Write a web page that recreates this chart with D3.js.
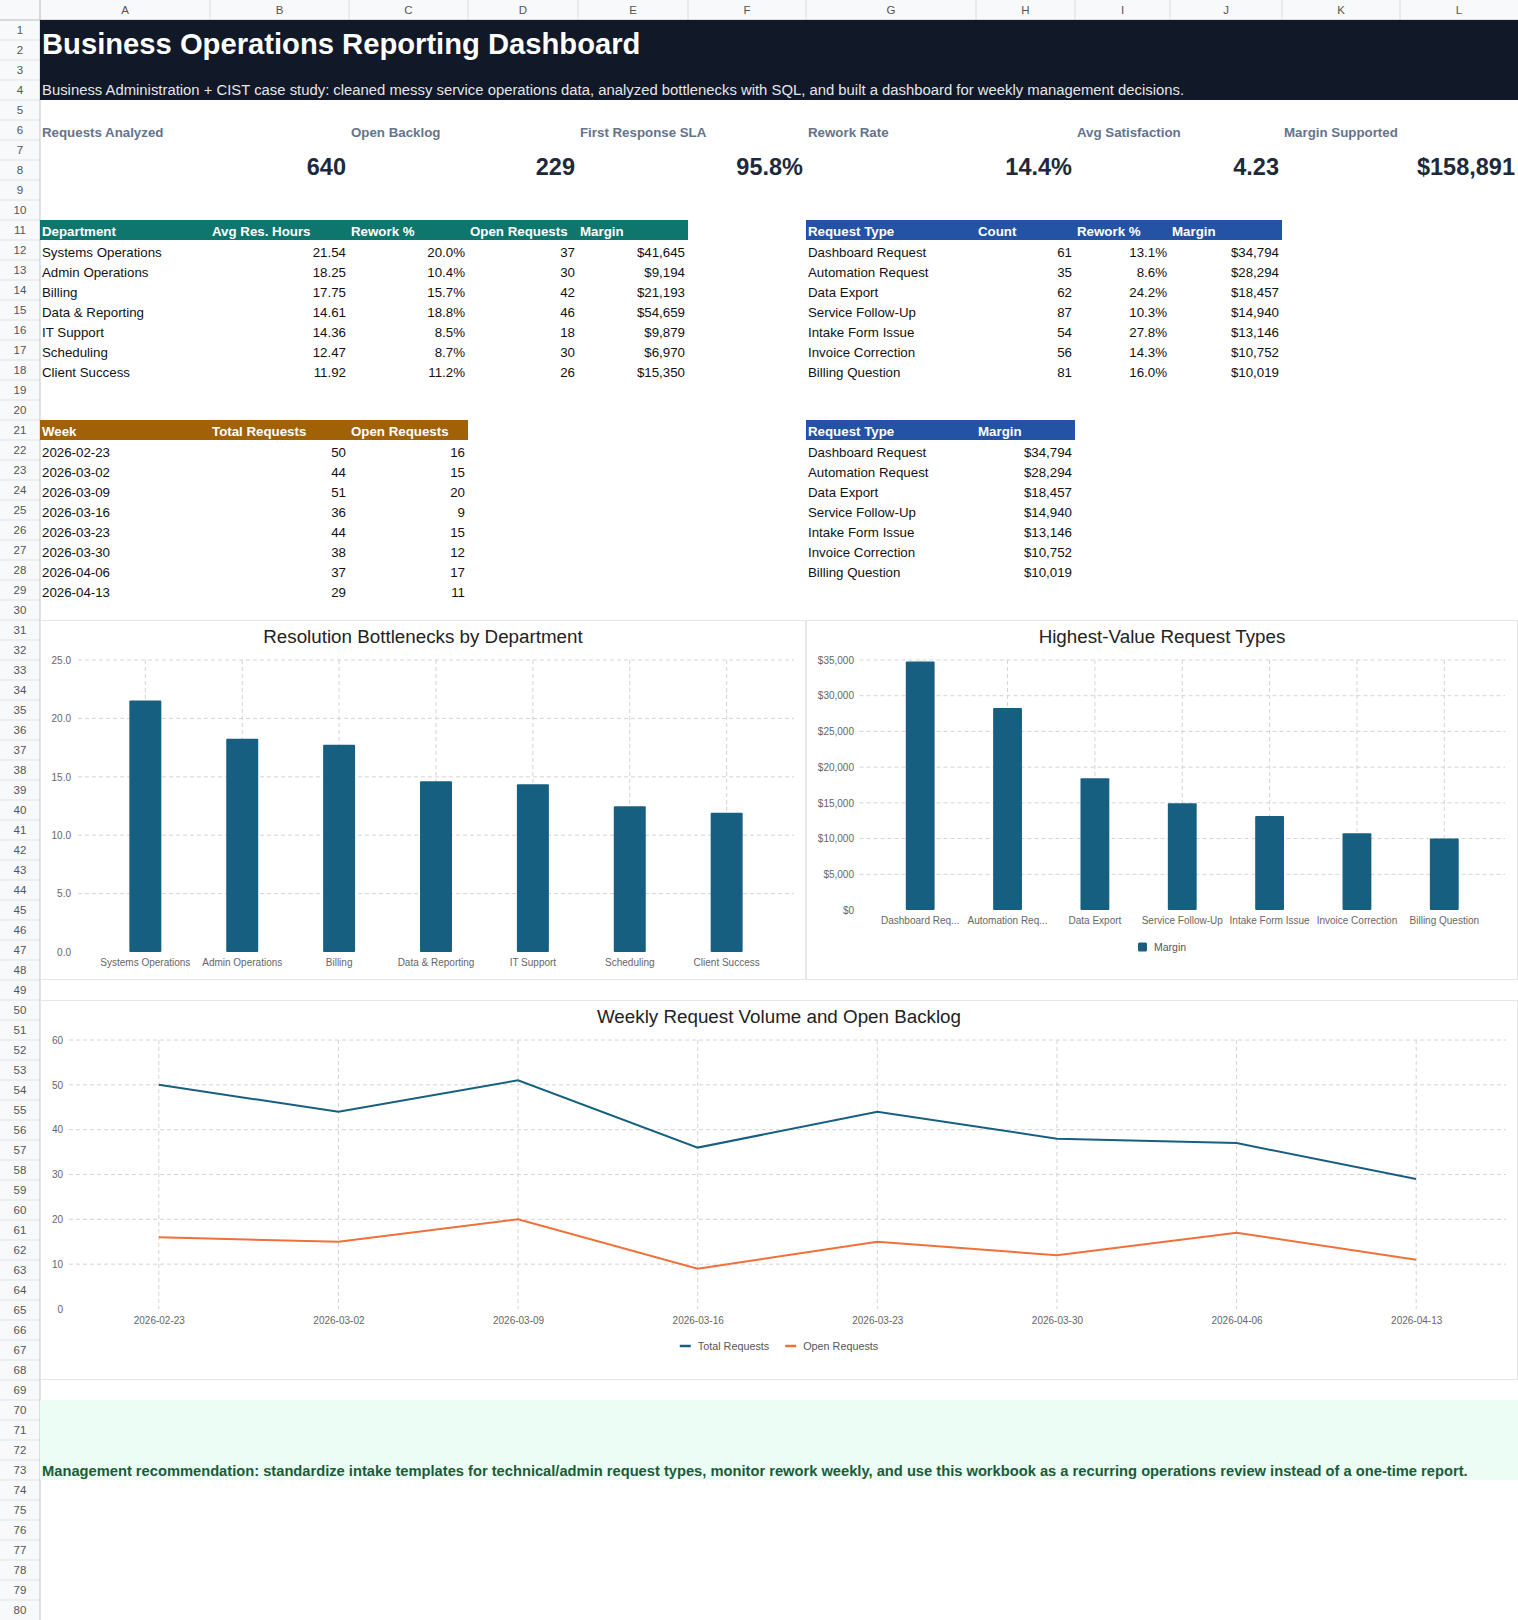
<!DOCTYPE html>
<html>
<head>
<meta charset="utf-8">
<script src="https://cdn.jsdelivr.net/npm/d3@7/dist/d3.min.js"></script>
<style>
  body { margin: 0; background: #fff; }
  svg { display: block; font-family: "Liberation Sans", Arial, Helvetica, sans-serif; }
</style>
</head>
<body>
<div id="sheet"></div>
<script>
// ---- dati del foglio ----
const titleText = 'Business Operations Reporting Dashboard';
const subtitleText = 'Business Administration + CIST case study: cleaned messy service operations data, analyzed bottlenecks with SQL, and built a dashboard for weekly management decisions.';
const recommendationText = 'Management recommendation: standardize intake templates for technical/admin request types, monitor rework weekly, and use this workbook as a recurring operations review instead of a one-time report.';

const kpiLabels = ['Requests Analyzed', 'Open Backlog', 'First Response SLA', 'Rework Rate', 'Avg Satisfaction', 'Margin Supported'];
const kpiValues = ['640', '229', '95.8%', '14.4%', '4.23', '$158,891'];

const deptHeaders = ['Department', 'Avg Res. Hours', 'Rework %', 'Open Requests', 'Margin'];
const departments = ['Systems Operations', 'Admin Operations', 'Billing', 'Data & Reporting', 'IT Support', 'Scheduling', 'Client Success'];
const deptHours = [21.54, 18.25, 17.75, 14.61, 14.36, 12.47, 11.92];
const deptRework = [20.0, 10.4, 15.7, 18.8, 8.5, 8.7, 11.2];
const deptOpen = [37, 30, 42, 46, 18, 30, 26];
const deptMargin = [41645, 9194, 21193, 54659, 9879, 6970, 15350];

const typeHeaders = ['Request Type', 'Count', 'Rework %', 'Margin'];
const requestTypes = ['Dashboard Request', 'Automation Request', 'Data Export', 'Service Follow-Up', 'Intake Form Issue', 'Invoice Correction', 'Billing Question'];
const typeShortLabels = ['Dashboard Req...', 'Automation Req...', 'Data Export', 'Service Follow-Up', 'Intake Form Issue', 'Invoice Correction', 'Billing Question'];
const typeCount = [61, 35, 62, 87, 54, 56, 81];
const typeRework = [13.1, 8.6, 24.2, 10.3, 27.8, 14.3, 16.0];
const typeMargin = [34794, 28294, 18457, 14940, 13146, 10752, 10019];

const weekHeaders = ['Week', 'Total Requests', 'Open Requests'];
const weeks = ['2026-02-23', '2026-03-02', '2026-03-09', '2026-03-16', '2026-03-23', '2026-03-30', '2026-04-06', '2026-04-13'];
const weekTotal = [50, 44, 51, 36, 44, 38, 37, 29];
const weekOpen = [16, 15, 20, 9, 15, 12, 17, 11];

const colLetters = ['A', 'B', 'C', 'D', 'E', 'F', 'G', 'H', 'I', 'J', 'K', 'L'];
const hoursTicks = [0, 5, 10, 15, 20, 25];
const marginTicks = [0, 5000, 10000, 15000, 20000, 25000, 30000, 35000];
const volumeTicks = [0, 10, 20, 30, 40, 50, 60];

// ---- griglia del foglio ----
const W = 1518, H = 1620;
const colX = [40, 210, 349, 468, 578, 688, 806, 976, 1075, 1170, 1282, 1400, 1518];
const rowY = r => 20 + (r - 1) * 20;

const money = v => '$' + d3.format(',')(v);
const pct = v => v.toFixed(1) + '%';

const C = {
  navy: '#111827', teal: '#0f766e', blue: '#2453a6', amber: '#a16207',
  bar: '#175f80', orange: '#f0703a', grid: '#d4d4d4', tick: '#666', mint: '#ecfdf5'
};

const svg = d3.select('#sheet').append('svg')
  .attr('width', W).attr('height', H);

// intestazioni colonne
svg.append('rect').attr('x', 0).attr('y', 0).attr('width', W).attr('height', 20).attr('fill', '#f8f9fa');
colLetters.forEach((l, i) => {
  svg.append('text')
    .attr('x', (colX[i] + colX[i + 1]) / 2).attr('y', 14)
    .attr('text-anchor', 'middle').style('font-size', '11.5px').attr('fill', '#555')
    .text(l);
  svg.append('line')
    .attr('x1', colX[i]).attr('x2', colX[i]).attr('y1', 0).attr('y2', 20)
    .attr('stroke', '#dadce0');
});

// intestazioni righe
svg.append('rect').attr('x', 0).attr('y', 20).attr('width', 40).attr('height', H - 20).attr('fill', '#f8f9fa');
d3.range(1, 81).forEach(r => {
  svg.append('line')
    .attr('x1', 0).attr('x2', 40).attr('y1', rowY(r)).attr('y2', rowY(r))
    .attr('stroke', '#e2e3e5');
  svg.append('text')
    .attr('x', 20).attr('y', rowY(r) + 14)
    .attr('text-anchor', 'middle').style('font-size', '11.5px').attr('fill', '#555')
    .text(r);
});
svg.append('line').attr('x1', 0).attr('x2', W).attr('y1', 20).attr('y2', 20).attr('stroke', '#c4c7c5');
svg.append('line').attr('x1', 40).attr('x2', 40).attr('y1', 0).attr('y2', H).attr('stroke', '#c4c7c5');

// banda del titolo
svg.append('rect').attr('x', 40).attr('y', rowY(1)).attr('width', W - 40).attr('height', 80).attr('fill', C.navy);
svg.append('text').attr('x', 42).attr('y', 54)
  .style('font-size', '29.2px').style('font-weight', '700').attr('fill', '#fff')
  .text(titleText);
svg.append('text').attr('x', 42).attr('y', 95)
  .style('font-size', '14.85px').attr('fill', '#e5e7eb')
  .text(subtitleText);

// KPI
kpiLabels.forEach((lab, i) => {
  const c = i * 2;
  svg.append('text').attr('x', colX[c] + 2).attr('y', 137)
    .style('font-size', '13.3px').style('font-weight', '700').attr('fill', '#64748b')
    .text(lab);
  svg.append('text').attr('x', colX[c + 2] - 3).attr('y', 175)
    .attr('text-anchor', 'end')
    .style('font-size', '23.5px').style('font-weight', '700').attr('fill', '#1e293b')
    .text(kpiValues[i]);
});

// tabella generica: colonne = indici di colonna del foglio
function drawTable(startRow, firstCol, headers, color, columns) {
  const endCol = firstCol + headers.length;
  svg.append('rect')
    .attr('x', colX[firstCol]).attr('y', rowY(startRow))
    .attr('width', colX[endCol] - colX[firstCol]).attr('height', 20)
    .attr('fill', color);
  headers.forEach((h, j) => {
    svg.append('text').attr('x', colX[firstCol + j] + 2).attr('y', rowY(startRow) + 16)
      .style('font-size', '13.3px').style('font-weight', '700').attr('fill', '#fff')
      .text(h);
  });
  columns[0].forEach((_, i) => {
    columns.forEach((col, j) => {
      const left = j === 0;
      svg.append('text')
        .attr('x', left ? colX[firstCol + j] + 2 : colX[firstCol + j + 1] - 3)
        .attr('y', rowY(startRow + 1 + i) + 17)
        .attr('text-anchor', left ? 'start' : 'end')
        .style('font-size', '13.3px').attr('fill', '#111')
        .text(col[i]);
    });
  });
}

drawTable(11, 0, deptHeaders, C.teal, [
  departments, deptHours.map(d => d.toFixed(2)), deptRework.map(pct), deptOpen, deptMargin.map(money)
]);
drawTable(11, 6, typeHeaders, C.blue, [
  requestTypes, typeCount, typeRework.map(pct), typeMargin.map(money)
]);
drawTable(21, 0, weekHeaders, C.amber, [weeks, weekTotal, weekOpen]);
drawTable(21, 6, ['Request Type', 'Margin'], C.blue, [requestTypes, typeMargin.map(money)]);

// ---- grafici ----
function chartBox(x0, x1, y0, y1, title) {
  svg.append('rect').attr('x', x0 + 0.5).attr('y', y0 + 0.5)
    .attr('width', x1 - x0 - 1).attr('height', y1 - y0 - 1)
    .attr('fill', '#fff').attr('stroke', '#e6e6e6');
  svg.append('text').attr('x', (x0 + x1) / 2).attr('y', y0 + 23)
    .attr('text-anchor', 'middle').style('font-size', '18.8px').attr('fill', '#222')
    .text(title);
}

function barChart(o) {
  chartBox(o.x0, o.x1, o.y0, o.y1, o.title);
  const g = svg.append('g');
  const x = d3.scaleBand().domain(o.labels).range([o.gx0, o.gx1])
    .paddingInner(0.67).paddingOuter(0.53);
  const y = d3.scaleLinear().domain([0, d3.max(o.ticks)]).range([o.bottom, o.top]);

  // griglia orizzontale
  g.selectAll('.hgrid').data(o.ticks.slice(1)).join('line')
    .attr('x1', o.gx0).attr('x2', o.gx1)
    .attr('y1', d => y(d)).attr('y2', d => y(d))
    .attr('stroke', C.grid).attr('stroke-dasharray', '4,3');
  // griglia verticale sulle categorie
  g.selectAll('.vgrid').data(o.labels).join('line')
    .attr('x1', d => x(d) + x.bandwidth() / 2).attr('x2', d => x(d) + x.bandwidth() / 2)
    .attr('y1', o.top).attr('y2', o.bottom)
    .attr('stroke', C.grid).attr('stroke-dasharray', '4,3');

  const yAxis = g.append('g').attr('transform', `translate(${o.tickX},0)`)
    .call(d3.axisLeft(y).tickValues(o.ticks).tickFormat(o.fmt).tickSize(0).tickPadding(0));
  yAxis.select('.domain').remove();
  yAxis.selectAll('text').style('font-size', '10px').attr('fill', C.tick)
    .style('font-family', '"Liberation Sans", Arial, sans-serif');

  g.selectAll('.bar').data(o.values).join('rect')
    .attr('x', (d, i) => x(o.labels[i]))
    .attr('y', d => y(d))
    .attr('width', x.bandwidth())
    .attr('height', d => o.bottom - y(d))
    .attr('rx', 1)
    .attr('fill', C.bar);

  const xAxis = g.append('g').attr('transform', `translate(0,${o.bottom})`)
    .call(d3.axisBottom(x).tickSize(0).tickPadding(o.labelPad));
  xAxis.select('.domain').remove();
  xAxis.selectAll('text').style('font-size', '10px').attr('fill', C.tick)
    .style('font-family', '"Liberation Sans", Arial, sans-serif');
  return g;
}

barChart({
  x0: 40, x1: 806, y0: 620, y1: 980,
  title: 'Resolution Bottlenecks by Department',
  labels: departments, values: deptHours,
  ticks: hoursTicks, fmt: d3.format('.1f'),
  gx0: 78, gx1: 794, top: 660, bottom: 952, tickX: 71, labelPad: 7
});

barChart({
  x0: 806, x1: 1518, y0: 620, y1: 980,
  title: 'Highest-Value Request Types',
  labels: typeShortLabels, values: typeMargin,
  ticks: marginTicks, fmt: money,
  gx0: 859.5, gx1: 1505, top: 660, bottom: 910, tickX: 854, labelPad: 7
});

// legenda grafico 2
const leg2 = svg.append('g').attr('transform', 'translate(1138,947)');
leg2.append('rect').attr('x', 0).attr('y', -4.5).attr('width', 9).attr('height', 9).attr('rx', 1.5).attr('fill', C.bar);
leg2.append('text').attr('x', 16).attr('y', 4).style('font-size', '10.5px').attr('fill', '#555').text('Margin');

// grafico a linee
chartBox(40, 1518, 1000, 1380, 'Weekly Request Volume and Open Backlog');
{
  const g = svg.append('g');
  const gx0 = 69, gx1 = 1506, top = 1040, bottom = 1309;
  const x = d3.scalePoint().domain(weeks).range([gx0, gx1]).padding(0.5);
  const y = d3.scaleLinear().domain([0, 60]).range([bottom, top]);

  g.selectAll('.hgrid').data(volumeTicks.slice(1)).join('line')
    .attr('x1', gx0).attr('x2', gx1)
    .attr('y1', d => y(d)).attr('y2', d => y(d))
    .attr('stroke', C.grid).attr('stroke-dasharray', '4,3');
  g.selectAll('.vgrid').data(weeks).join('line')
    .attr('x1', d => x(d)).attr('x2', d => x(d))
    .attr('y1', top).attr('y2', bottom)
    .attr('stroke', C.grid).attr('stroke-dasharray', '4,3');

  const yAxis = g.append('g').attr('transform', 'translate(63,0)')
    .call(d3.axisLeft(y).tickValues(volumeTicks).tickSize(0).tickPadding(0));
  yAxis.select('.domain').remove();
  yAxis.selectAll('text').style('font-size', '10px').attr('fill', C.tick)
    .style('font-family', '"Liberation Sans", Arial, sans-serif');

  const xAxis = g.append('g').attr('transform', `translate(0,${bottom})`)
    .call(d3.axisBottom(x).tickSize(0).tickPadding(8));
  xAxis.select('.domain').remove();
  xAxis.selectAll('text').style('font-size', '10px').attr('fill', C.tick)
    .style('font-family', '"Liberation Sans", Arial, sans-serif');

  const series = [
    { name: 'Total Requests', values: weekTotal, color: C.bar },
    { name: 'Open Requests', values: weekOpen, color: C.orange }
  ];
  const line = d3.line().x((d, i) => x(weeks[i])).y(d => y(d));
  series.forEach(s => {
    g.append('path').attr('d', line(s.values))
      .attr('fill', 'none').attr('stroke', s.color).attr('stroke-width', 2);
  });

  // legenda centrata
  const leg = svg.append('g');
  let cx = 0;
  series.forEach(s => {
    const it = leg.append('g').attr('transform', `translate(${cx},0)`);
    it.append('line').attr('x1', 0).attr('x2', 11).attr('y1', 0).attr('y2', 0)
      .attr('stroke', s.color).attr('stroke-width', 2.5);
    const t = it.append('text').attr('x', 18).attr('y', 4)
      .style('font-size', '10.8px').attr('fill', '#555').text(s.name);
    cx += 18 + t.node().getComputedTextLength() + 16;
  });
  const total = cx - 16;
  leg.attr('transform', `translate(${779 - total / 2},1346)`);
}

// raccomandazione
svg.append('rect').attr('x', 40).attr('y', rowY(70)).attr('width', W - 40).attr('height', 80).attr('fill', C.mint);
svg.append('text').attr('x', 42).attr('y', 1476)
  .style('font-size', '14.7px').style('font-weight', '700').attr('fill', '#1a5c38')
  .text(recommendationText);
</script>
</body>
</html>
